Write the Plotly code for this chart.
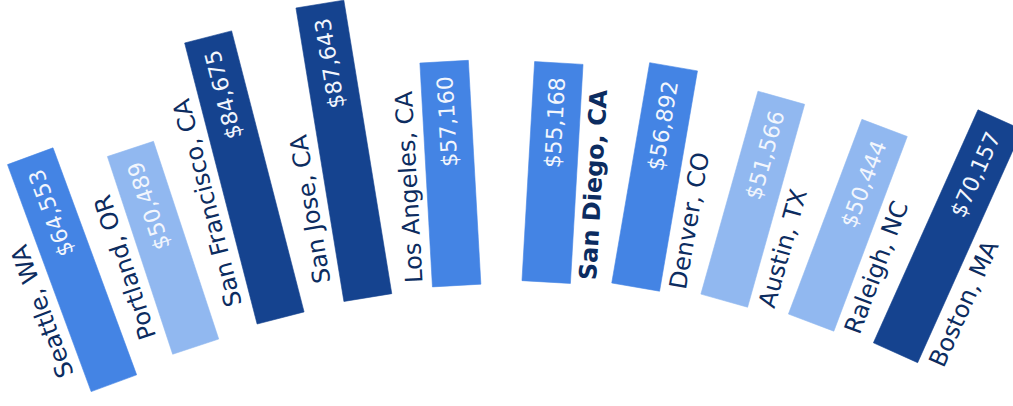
import math
import plotly.graph_objects as go

# ---------------- data ----------------
cities = ["Seattle, WA", "Portland, OR", "San Francisco, CA", "San Jose, CA",
          "Los Angeles, CA", "San Diego, CA", "Denver, CO", "Austin, TX",
          "Raleigh, NC", "Boston, MA"]
incomes = [64553, 50489, 84675, 87643, 57160, 55168, 56892, 51566, 50444, 70157]
value_labels = ["${:,}".format(v) for v in incomes]
highlight_city = "San Diego, CA"

# ---------------- layout / style constants ----------------
W, H = 1013, 406
CX, CY = 538.0, 1221.0          # centre of the arc (pixel space, y down)
R_IN = 939.0                    # inner radius where bars start
STEP = 5.47                     # angular step between categories (deg)
ANGLE_OFFSET = 0.5
MID_INDEX = 5
TILT_C, TILT_K1, TILT_K3 = 2.7, 1.2, -4.8e-4   # bar orientation vs arc angle
BAR_HALF = 24.25                # half bar width (px)
LEN_BASE, LEN_PER = 87.0, 0.0024    # bar length = base + per * value
LABEL_PERP = 42.0
VALUE_FROM_TOP = 60.0
FONT = "DejaVu Sans"
LABEL_SIZE, VALUE_SIZE = 24, 22
DARK, MID, LIGHT = "#15438f", "#4484e4", "#91b8f0"
LABEL_COLOR = "#0c2c60"
VALUE_COLOR = "#f2f6fd"

# DejaVu Sans advance widths (em) used to centre the rotated labels
REG = {' ': .318, ',': .318, 'A': .684, 'B': .686, 'C': .698, 'D': .770, 'F': .575,
       'J': .295, 'L': .557, 'M': .863, 'N': .748, 'O': .787, 'P': .603, 'R': .695,
       'S': .635, 'T': .611, 'W': .989, 'X': .685, 'a': .613, 'c': .550, 'd': .635,
       'e': .615, 'g': .635, 'h': .634, 'i': .278, 'l': .278, 'n': .634, 'o': .612,
       'r': .411, 's': .521, 't': .392, 'u': .634, 'v': .592}
BOLD = {' ': .348, ',': .380, 'A': .774, 'C': .734, 'D': .830, 'S': .720, 'a': .675,
        'e': .678, 'g': .716, 'i': .343, 'n': .712, 'o': .687}


def text_width(s, size, bold=False):
    table = BOLD if bold else REG
    return sum(table.get(ch, 0.62) for ch in s) * size


def color_for(v):
    if v >= 70000:
        return DARK
    if v >= 55000:
        return MID
    return LIGHT


fig = go.Figure()
annotations = []

for i, (city, val, vlab) in enumerate(zip(cities, incomes, value_labels)):
    p = ANGLE_OFFSET + (i - MID_INDEX) * STEP
    o = TILT_C + TILT_K1 * p + TILT_K3 * p ** 3
    pr, orr = math.radians(p), math.radians(o)
    bx, by = CX + R_IN * math.sin(pr), CY - R_IN * math.cos(pr)
    ux, uy = math.sin(orr), -math.cos(orr)      # along the bar (outward)
    nx, ny = math.cos(orr), math.sin(orr)       # to the right of the bar
    L = LEN_BASE + LEN_PER * val

    corners = [(-BAR_HALF, 0), (BAR_HALF, 0), (BAR_HALF, L), (-BAR_HALF, L), (-BAR_HALF, 0)]
    xs = [bx + a * nx + b * ux for a, b in corners]
    ys = [by + a * ny + b * uy for a, b in corners]
    col = color_for(val)
    fig.add_trace(go.Scatter(x=xs, y=ys, mode="lines", fill="toself",
                             fillcolor=col, line=dict(color=col, width=0.6),
                             hoverinfo="skip", showlegend=False))

    textangle = o - 90
    # value label inside the bar, near its outer end
    a_v = L - VALUE_FROM_TOP
    annotations.append(dict(x=bx + a_v * ux, y=by + a_v * uy, xref="x", yref="y",
                            text=vlab, showarrow=False, textangle=textangle,
                            xanchor="center", yanchor="middle",
                            font=dict(family=FONT, size=VALUE_SIZE, color=VALUE_COLOR)))

    # category label beside the bar
    bold = city == highlight_city
    side = -1 if i < MID_INDEX else 1
    start = 22.0 if p < -10 else 5.0
    a_c = start + text_width(city, LABEL_SIZE, bold) / 2
    annotations.append(dict(x=bx + a_c * ux + side * LABEL_PERP * nx,
                            y=by + a_c * uy + side * LABEL_PERP * ny,
                            xref="x", yref="y",
                            text="<b>%s</b>" % city if bold else city,
                            showarrow=False, textangle=textangle,
                            xanchor="center", yanchor="middle",
                            font=dict(family=FONT, size=LABEL_SIZE, color=LABEL_COLOR)))

fig.update_layout(
    width=W, height=H,
    margin=dict(l=0, r=0, t=0, b=0),
    paper_bgcolor="white", plot_bgcolor="white",
    xaxis=dict(range=[0, W], visible=False, fixedrange=True),
    yaxis=dict(range=[H, 0], visible=False, fixedrange=True),
    annotations=annotations,
    showlegend=False,
)

# remove the browser's default page margin so the figure sits at the window origin
fig.write_html("out.html",
               config={"displayModeBar": False, "staticPlot": True},
               post_script="document.body.style.margin='0';document.body.style.overflow='hidden';")
